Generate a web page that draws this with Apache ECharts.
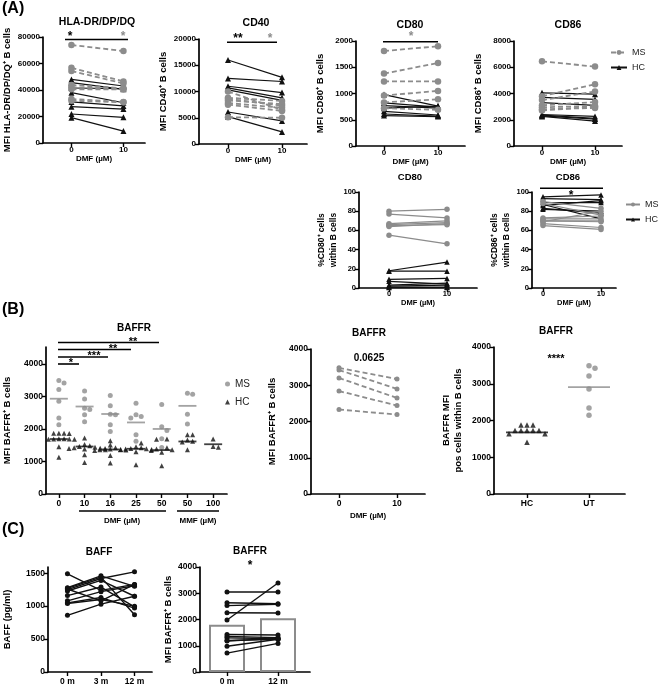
<!DOCTYPE html>
<html><head><meta charset="utf-8">
<script src="https://cdn.jsdelivr.net/npm/echarts@6/dist/echarts.min.js"></script>
<style>html,body{margin:0;padding:0;background:#fff}#c{width:660px;height:686px}</style>
</head><body><div id="c"></div>
<script>
// ================= DATA =================
const pairTicks = ['0', '10'];
// (A) top row, MFI, 0 vs 10 µM DMF
const hlaMS0 = [74000, 56800, 54300, 43800, 42000, 40500, 33200, 31900];
const hlaMS10 = [69400, 46500, 45000, 41300, 40800, 40500, 31000, 30700];
const hlaHC0 = [48000, 45500, 41500, 38000, 31000, 27400, 21900, 19100];
const hlaHC10 = [43000, 40500, 41000, 30400, 28000, 25600, 19400, 9000];
const hlaTicks = [0, 20000, 40000, 60000, 80000];

const cd40MS0 = [10000, 8800, 8600, 8300, 7800, 7500, 5100];
const cd40MS10 = [6500, 8200, 7300, 7600, 6900, 6300, 5000];
const cd40HC0 = [16000, 12500, 11000, 10700, 10300, 6100, 5200];
const cd40HC10 = [12700, 11900, 9800, 8800, 8300, 4400, 2300];
const cd40Ticks = [0, 5000, 10000, 15000, 20000];

const cd80MS0 = [1810, 1380, 1230, 960, 830, 720];
const cd80MS10 = [1900, 1580, 1230, 1050, 890, 690];
const cd80HC0 = [980, 820, 770, 720, 660, 610, 580];
const cd80HC10 = [760, 740, 720, 760, 590, 570, 560];
const cd80Ticks = [0, 500, 1000, 1500, 2000];

const cd86MS0 = [6450, 3800, 3500, 3100, 2950, 2800, 2700];
const cd86MS10 = [6050, 4700, 4150, 3350, 3050, 2900, 3000];
const cd86HC0 = [4050, 3700, 3300, 2400, 2350, 2300, 2250];
const cd86HC10 = [3950, 3550, 3100, 2250, 2100, 2050, 1900];
const cd86Ticks = [0, 2000, 4000, 6000, 8000];

// (A) bottom row, % positive cells
const pctCd80MS0 = [80, 77, 67, 66, 65, 64, 55];
const pctCd80MS10 = [82, 73, 70, 68, 66, 67, 46];
const pctCd80HC0 = [18, 17.5, 9, 7, 3, 2, 1, 0.5];
const pctCd80HC10 = [27, 17.5, 10, 4, 5, 3, 1, 0.5];
const pctCd86MS0 = [90, 88, 73, 72, 70, 67, 65, 70, 69];
const pctCd86MS10 = [83, 76, 75, 72, 70, 63, 61, 69, 80];
const pctCd86HC0 = [95, 93, 89, 87, 83, 82, 86];
const pctCd86HC10 = [97, 92, 89, 72, 78, 80, 91];
const pctTicks = [0, 20, 40, 60, 80, 100];

// (B) left: BAFFR MFI by condition
const baffrCats = ['0', '10', '16', '25', '50', '50', '100'];
const baffrMS = [
  [3490, 3410, 3210, 2850, 2340, 2130],
  [3170, 2920, 2640, 2600, 2440, 2220],
  [3030, 2710, 2450, 2440, 2130, 1920],
  [2790, 2440, 2380, 2340, 1820, 1620],
  [2750, 2070, 1950, 1700, 1430],
  [3100, 3070, 2450, 2150],
  []
];
const baffrHC = [
  [1870, 1870, 1870, 1860, 1700, 1700, 1690, 1690, 1680, 1680, 1450, 1130],
  [1720, 1520, 1480, 1460, 1440, 1420, 1410, 1400, 1380, 1360, 1210, 970],
  [1640, 1510, 1420, 1400, 1380, 1370, 1360, 1350, 1340, 1180, 950],
  [1570, 1450, 1420, 1400, 1390, 1380, 1370, 1360, 1300, 900],
  [1690, 1680, 1420, 1380, 1360, 1340, 1280, 870],
  [1820, 1820, 1660, 1620, 1600, 1360],
  [1690, 1460, 1440]
];
const baffrMSLine = [2930, 2690, 2460, 2200, 2000, 2710, null];
const baffrHCLine = [1690, 1460, 1370, 1390, 1350, 1615, 1530];
const baffrTicks = [0, 1000, 2000, 3000, 4000];

// (B) middle: MS paired
const baffrMid0 = [3480, 3420, 3200, 2840, 2330];
const baffrMid10 = [3170, 2900, 2650, 2440, 2190];

// (B) right: HC vs UT
const hcUtCats = ['HC', 'UT'];
const hcBaffr = [1880, 1880, 1880, 1730, 1730, 1730, 1730, 1730, 1640, 1640, 1410];
const utBaffr = [3490, 3420, 3210, 2860, 2340, 2140];
const hcUtLine = [1675, 2910];

// (C) left: BAFF over time
const baffMonths = ['0 m', '3 m', '12 m'];
const baff0 = [1490, 1280, 1270, 1250, 1230, 1160, 1080, 1050, 1040, 860, 1260];
const baff3 = [1240, 1460, 1440, 1420, 1390, 1290, 1220, 1130, 1100, 1030, 1080];
const baff12 = [1330, 1300, 870, 1520, 1150, 990, 1310, 970, 1000, 1150, 1330];
const baffTicks = [0, 500, 1000, 1500];

// (C) right: BAFFR 0 vs 12 m
const cMonths = ['0 m', '12 m'];
const cBaffr0 = [3050, 2640, 2530, 2260, 1980, 1430, 1350, 1300, 1200, 1180, 980, 720];
const cBaffr12 = [3050, 2600, 2580, 2250, 3390, 1410, 1310, 1260, 1250, 1280, 1250, 1090];
const cBarMean = [1800, 2050];

// ================= LAYOUT / STYLE =================
const FONT = '"Liberation Sans", Arial, Helvetica, sans-serif';
const GRAY = '#8c8c8c';
const BLK = '#111111';

const grids = [], xAxes = [], yAxes = [], series = [];

function addPanel(p) {
  const gi = grids.length;
  grids.push({ left: p.left, top: p.top, width: p.width, height: p.height });
  const n = p.cats.length;
  const step = (p.x1 - p.x0) / (n - 1);
  const xmin = -(p.x0 - p.left) / step;
  const xmax = xmin + p.width / step;
  const idx = p.cats.map((_, i) => i);
  const tfs = p.tfs || 8;
  xAxes.push({
    gridIndex: gi, type: 'value', min: xmin, max: xmax,
    axisLine: { show: true, onZero: false, lineStyle: { color: '#000', width: 1.7 } },
    axisTick: { show: true, customValues: idx, length: 4, lineStyle: { color: '#000', width: 1.4 } },
    axisLabel: { customValues: idx, formatter: v => p.cats[Math.round(v)], fontSize: p.xfs || tfs, fontWeight: 'bold', color: '#000', margin: p.xmargin || 3, fontFamily: FONT },
    splitLine: { show: false },
    name: p.xname || '', nameLocation: 'middle', nameGap: p.xnameGap || 13,
    nameTextStyle: { fontSize: p.xnfs || 8, fontWeight: 'bold', color: '#000', fontFamily: FONT }
  });
  yAxes.push({
    gridIndex: gi, type: 'value', min: 0, max: p.ymax,
    axisLine: { show: true, onZero: false, lineStyle: { color: '#000', width: 1.7 } },
    axisTick: { show: true, customValues: p.yticks, length: 4, lineStyle: { color: '#000', width: 1.4 } },
    axisLabel: { customValues: p.yticks, formatter: v => String(Math.round(v)), fontSize: tfs, fontWeight: 'bold', color: '#000', margin: 3, fontFamily: FONT },
    splitLine: { show: false },
    name: p.yname, nameLocation: 'middle', nameRotate: 90, nameGap: p.ynameGap,
    nameTextStyle: { fontSize: p.ynfs || 9.5, fontWeight: 'bold', color: '#000', fontFamily: FONT, lineHeight: 12 }
  });
  return gi;
}

function addPaired(gi, cols, st) {
  cols[0].forEach((_, i) => {
    series.push({
      type: 'line', name: st.name, xAxisIndex: gi, yAxisIndex: gi,
      data: cols.map((c, k) => [k, c[i]]),
      symbol: st.symbol, symbolSize: st.size, showSymbol: true,
      lineStyle: { color: st.color, width: st.width, type: st.dash ? [5, 3] : 'solid' },
      itemStyle: { color: st.color }, z: st.z || 2, silent: true
    });
  });
}

// horizontal spreading of overlapping points (layout only)
function swarm(vals, pxPerUnit, s, dyMin) {
  const order = vals.map((_, i) => i).sort((a, b) => vals[b] - vals[a]);
  const placed = [], off = new Array(vals.length).fill(0);
  order.forEach(i => {
    const y = vals[i] * pxPerUnit;
    for (let k = 0; k < 60; k++) {
      const dx = k === 0 ? 0 : (k % 2 ? 1 : -1) * Math.ceil(k / 2) * s;
      if (!placed.some(q => Math.abs(q.x - dx) < s - 0.01 && Math.abs(q.y - y) < dyMin)) {
        off[i] = dx; placed.push({ x: dx, y }); break;
      }
    }
  });
  return off;
}

const msDash = { name: 'MS', symbol: 'circle', size: 6.5, color: GRAY, width: 1.8, dash: true, z: 3 };
const hcSolid = { name: 'HC', symbol: 'triangle', size: 6, color: BLK, width: 1.2, z: 2 };
const msSolidB = { name: 'MS_b', symbol: 'circle', size: 5.5, color: GRAY, width: 1.2, z: 3 };
const hcSolidB = { name: 'HC_b', symbol: 'triangle', size: 5.5, color: BLK, width: 1.2, z: 2 };

// ---- (A) top
const aTop = [
  { left: 41, top: 37, width: 104, height: 106, x0: 70, x1: 123, ymax: 80000, yticks: hlaTicks, yname: 'MFI HLA-DR/DP/DQ⁺ B cells', ms: [hlaMS0, hlaMS10], hc: [hlaHC0, hlaHC10] },
  { left: 199, top: 39, width: 108, height: 105, x0: 228, x1: 282, ymax: 20000, yticks: cd40Ticks, yname: 'MFI CD40⁺ B cells', ms: [cd40MS0, cd40MS10], hc: [cd40HC0, cd40HC10] },
  { left: 356, top: 41, width: 109, height: 105, x0: 384, x1: 438, ymax: 2000, yticks: cd80Ticks, yname: 'MFI CD80⁺ B cells', ms: [cd80MS0, cd80MS10], hc: [cd80HC0, cd80HC10] },
  { left: 514, top: 41, width: 108, height: 105, x0: 542, x1: 595, ymax: 8000, yticks: cd86Ticks, yname: 'MFI CD86⁺ B cells', ms: [cd86MS0, cd86MS10], hc: [cd86HC0, cd86HC10] }
];
aTop.forEach(p => {
  const gi = addPanel(Object.assign({ cats: pairTicks, xname: 'DMF (µM)', xnameGap: 12, ynameGap: 30 }, p));
  addPaired(gi, p.hc, hcSolid);
  addPaired(gi, p.ms, msDash);
});

// ---- (A) bottom
const aBot = [
  { left: 359, top: 192, width: 118, height: 96, x0: 389, x1: 447, yname: '%CD80⁺ cells\nwithin B cells', ynameGap: 19, ms: [pctCd80MS0, pctCd80MS10], hc: [pctCd80HC0, pctCd80HC10] },
  { left: 532, top: 192, width: 84, height: 96, x0: 543, x1: 601, yname: '%CD86⁺ cells\nwithin B cells', ynameGap: 19, ms: [pctCd86MS0, pctCd86MS10], hc: [pctCd86HC0, pctCd86HC10] }
];
aBot.forEach(p => {
  const gi = addPanel(Object.assign({ cats: pairTicks, xname: 'DMF (µM)', xnameGap: 6, ymax: 100, yticks: pctTicks, tfs: 7.5, ynfs: 8.5, xmargin: 2, xnfs: 7.5 }, p));
  addPaired(gi, p.ms, msSolidB);
  addPaired(gi, p.hc, hcSolidB);
});

// ---- (B) left
{
  const p = { left: 44, top: 347, width: 183, height: 147, x0: 57, x1: 213, cats: baffrCats, ymax: 4520, yticks: baffrTicks, yname: 'MFI BAFFR⁺ B cells', ynameGap: 33, tfs: 8.5, xmargin: 5 };
  const gi = addPanel(p);
  const ppu = p.height / p.ymax;
  const msData = [], hcData = [];
  baffrCats.forEach((_, c) => {
    const vals = baffrMS[c].concat(baffrHC[c]);
    const off = swarm(vals, ppu, 5.2, 4.2);
    vals.forEach((v, i) => {
      const item = { value: [c, v], symbolOffset: [off[i], 0] };
      (i < baffrMS[c].length ? msData : hcData).push(item);
    });
  });
  series.push({ type: 'scatter', name: 'MS_s', xAxisIndex: gi, yAxisIndex: gi, data: msData, symbol: 'circle', symbolSize: 5, itemStyle: { color: GRAY }, z: 3 });
  series.push({ type: 'scatter', name: 'HC_s', xAxisIndex: gi, yAxisIndex: gi, data: hcData, symbol: 'triangle', symbolSize: 5, itemStyle: { color: BLK }, z: 3 });
  series.push({ type: 'scatter', name: 'msmean', xAxisIndex: gi, yAxisIndex: gi, data: baffrMSLine.map((v, c) => v == null ? null : [c, v]).filter(d => d), symbol: 'rect', symbolSize: [18, 1.8], itemStyle: { color: GRAY }, z: 4 });
  series.push({ type: 'scatter', name: 'hcmean', xAxisIndex: gi, yAxisIndex: gi, data: baffrHCLine.map((v, c) => [c, v]), symbol: 'rect', symbolSize: [18, 1.8], itemStyle: { color: BLK }, z: 4 });
}

// ---- (B) middle
{
  const gi = addPanel({ left: 311, top: 349, width: 114, height: 145, x0: 339, x1: 397, cats: pairTicks, ymax: 4000, yticks: baffrTicks, yname: 'MFI BAFFR⁺ B cells', ynameGap: 33, tfs: 8.5, xmargin: 5, xname: 'DMF (µM)', xnameGap: 18, xnfs: 8 });
  addPaired(gi, [baffrMid0, baffrMid10], { name: 'midMS', symbol: 'circle', size: 5, color: GRAY, width: 1.8, dash: true });
}

// ---- (B) right
{
  const p = { left: 494, top: 347, width: 131, height: 147, x0: 527, x1: 589, cats: hcUtCats, ymax: 4000, yticks: baffrTicks, yname: 'BAFFR MFI\npos cells within B cells', ynameGap: 30, tfs: 8.5, xmargin: 5 };
  const gi = addPanel(p);
  const ppu = p.height / p.ymax;
  const offH = swarm(hcBaffr, ppu, 6, 5), offU = swarm(utBaffr, ppu, 6, 5);
  series.push({ type: 'scatter', name: 'hcpts', xAxisIndex: gi, yAxisIndex: gi, data: hcBaffr.map((v, i) => ({ value: [0, v], symbolOffset: [offH[i], 0] })), symbol: 'triangle', symbolSize: 5.5, itemStyle: { color: BLK }, z: 3 });
  series.push({ type: 'scatter', name: 'utpts', xAxisIndex: gi, yAxisIndex: gi, data: utBaffr.map((v, i) => ({ value: [1, v], symbolOffset: [offU[i], 0] })), symbol: 'circle', symbolSize: 5.5, itemStyle: { color: GRAY }, z: 3 });
  series.push({ type: 'scatter', name: 'hcutline0', xAxisIndex: gi, yAxisIndex: gi, data: [[0, hcUtLine[0]]], symbol: 'rect', symbolSize: [42, 1.8], itemStyle: { color: BLK }, z: 4 });
  series.push({ type: 'scatter', name: 'hcutline1', xAxisIndex: gi, yAxisIndex: gi, data: [[1, hcUtLine[1]]], symbol: 'rect', symbolSize: [42, 1.8], itemStyle: { color: GRAY }, z: 4 });
}

// ---- (C) left
{
  const gi = addPanel({ left: 45, top: 567, width: 107, height: 106, x0: 65, x1: 134, cats: baffMonths, ymax: 1594, yticks: baffTicks, yname: 'BAFF (pg/ml)', ynameGap: 35, tfs: 8.5, xmargin: 5 });
  addPaired(gi, [baff0, baff3, baff12], { name: 'baff', symbol: 'circle', size: 5, color: BLK, width: 1.4 });
}

// ---- (C) right
{
  const gi = addPanel({ left: 200, top: 567, width: 110, height: 106, x0: 227, x1: 278, cats: cMonths, ymax: 4000, yticks: baffrTicks, yname: 'MFI BAFFR⁺ B cells', ynameGap: 25, tfs: 8.5, xmargin: 5 });
  series.push({ type: 'bar', name: 'cbar', xAxisIndex: gi, yAxisIndex: gi, data: cBarMean.map((v, i) => [i, v]), barWidth: 36, itemStyle: { color: '#fff', borderColor: GRAY, borderWidth: 2 }, z: 1 });
  addPaired(gi, [cBaffr0, cBaffr12], { name: 'cbaffr', symbol: 'circle', size: 5, color: BLK, width: 1.4, z: 3 });
}

// ================= ANNOTATIONS =================
function T(x, y, text, o) {
  o = o || {};
  const font = (o.weight || 'bold') + ' ' + (o.size || 10) + 'px ' + FONT;
  return { type: 'text', x: x, y: y, silent: true, z: 50,
    style: { text: text, fill: o.color || '#000', font: font, align: o.align || 'center', verticalAlign: 'middle', textAlign: o.align || 'center', textVerticalAlign: 'middle' } };
}
function L(x1, y1, x2, y2, o) {
  o = o || {};
  return { type: 'line', silent: true, z: 50, shape: { x1: x1, y1: y1, x2: x2, y2: y2 }, style: { stroke: o.color || '#000', lineWidth: o.w || 1.6 } };
}

const graphics = [
  T(2, 9, '(A)', { size: 16, align: 'left' }),
  T(2, 310, '(B)', { size: 16, align: 'left' }),
  T(2, 530, '(C)', { size: 16, align: 'left' }),
  // A top titles
  T(97, 22, 'HLA-DR/DP/DQ', { size: 10.5 }),
  T(256, 23, 'CD40', { size: 10.5 }),
  T(410, 25, 'CD80', { size: 10.5 }),
  T(568, 25, 'CD86', { size: 10.5 }),
  // significance A top
  L(65, 39.5, 128, 39.5), T(70, 37, '*', { size: 12 }), T(123, 37, '*', { size: 12, color: GRAY }),
  L(227, 42.3, 277, 42.3), T(238, 39, '**', { size: 12 }), T(270, 39, '*', { size: 12, color: GRAY }),
  L(383, 41.7, 438, 41.7), T(411, 37, '*', { size: 12, color: GRAY }),
  // A bottom
  T(410, 177, 'CD80', { size: 9.5 }),
  T(568, 177, 'CD86', { size: 9.5 }),
  L(540, 188.3, 603, 188.3), T(571, 196, '*', { size: 12 }),
  // B left
  T(134, 328, 'BAFFR', { size: 10 }),
  L(58, 364, 79, 364), T(71, 363, '*', { size: 11 }),
  L(58, 357, 108, 357), T(94, 356, '***', { size: 11 }),
  L(58, 349.5, 131, 349.5), T(113, 348.5, '**', { size: 11 }),
  L(58, 342.5, 159, 342.5), T(133, 341.5, '**', { size: 11 }),
  L(79, 511, 166, 511, { w: 1.4 }), L(177, 511, 219, 511, { w: 1.4 }),
  T(122, 521, 'DMF (µM)', { size: 8 }), T(198, 521, 'MMF (µM)', { size: 8 }),
  // B middle / right
  T(369, 333, 'BAFFR', { size: 10 }),
  T(369, 358, '0.0625', { size: 10 }),
  T(556, 331, 'BAFFR', { size: 10 }),
  T(556, 359, '****', { size: 11 }),
  // C
  T(99, 552, 'BAFF', { size: 10 }),
  T(250, 551, 'BAFFR', { size: 10 }),
  T(250, 566, '*', { size: 12 })
];

const legText = { fontSize: 9, fontFamily: FONT, color: '#222' };
const option = {
  animation: false,
  backgroundColor: '#fff',
  grid: grids, xAxis: xAxes, yAxis: yAxes, series: series,
  legend: [
    { data: ['MS', 'HC'], orient: 'vertical', left: 605, top: 43, itemWidth: 16, itemHeight: 6, itemGap: 6, textStyle: legText, formatter: n => n.split('_')[0], selectedMode: false },
    { data: ['MS_b', 'HC_b'], orient: 'vertical', left: 620, top: 195, itemWidth: 14, itemHeight: 5, itemGap: 6, textStyle: legText, formatter: n => n.split('_')[0], selectedMode: false },
    { data: ['MS_s', 'HC_s'], orient: 'vertical', left: 220, top: 374, itemWidth: 5, itemHeight: 5, itemGap: 8, textStyle: { fontSize: 10, fontFamily: FONT, color: '#222' }, formatter: n => n.split('_')[0], selectedMode: false }
  ],
  graphic: graphics
};
const chart = echarts.init(document.getElementById('c'), null, { renderer: 'canvas' });
chart.setOption(option);
</script>
</body></html>
